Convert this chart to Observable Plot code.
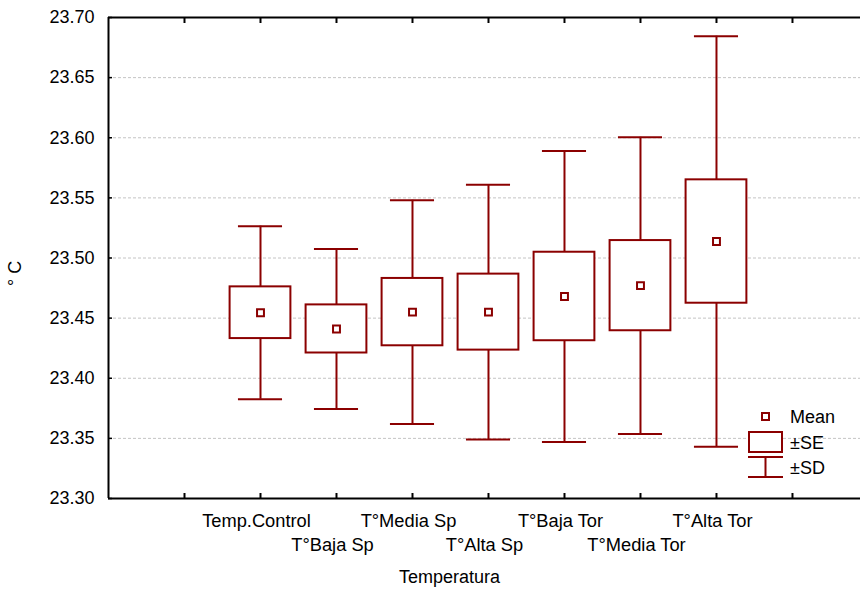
<!DOCTYPE html>
<html>
<head>
<meta charset="utf-8">
<script src="https://cdn.jsdelivr.net/npm/d3@7"></script>
<script src="https://cdn.jsdelivr.net/npm/@observablehq/plot@0.6"></script>
<style>
  body { margin: 0; background: #fff; overflow: hidden; }
  #chart { position: relative; width: 860px; height: 591px; font-family: "Liberation Sans", Arial, sans-serif; }
  #legend { position: absolute; left: 740px; top: 404px; }
</style>
</head>
<body>
<div id="chart"></div>
<script>
// Temperature groups (left to right)
const categories = ["Temp.Control", "T°Baja Sp", "T°Media Sp", "T°Alta Sp", "T°Baja Tor", "T°Media Tor", "T°Alta Tor"];
// Mean temperature (°C) per group
const means = [23.4545, 23.4410, 23.4550, 23.4550, 23.4680, 23.4770, 23.5137];
// Standard error per group
const stdErr = [0.0215, 0.0200, 0.0280, 0.0316, 0.0368, 0.0375, 0.0513];
// Standard deviation per group
const stdDev = [0.0720, 0.0665, 0.0930, 0.1060, 0.1210, 0.1234, 0.1707];
// Axis ticks
const yTicks = [23.30, 23.35, 23.40, 23.45, 23.50, 23.55, 23.60, 23.65, 23.70];
const xTicks = [1, 2, 3, 4, 5, 6, 7, 8, 9];
const xMax = 9.895;

const red = "#8b0000";
const font = "'Liberation Sans', Arial, sans-serif";

const groups = categories.map((name, i) => ({
  name, pos: i + 2, row: i % 2,
  mean: means[i], se: stdErr[i], sd: stdDev[i]
}));

const boxHalf = 0.4;   // half box width, in slot units
const capHalf = 0.29;  // half whisker-cap width

const chart = Plot.plot({
  width: 860,
  height: 591,
  marginLeft: 108,
  marginRight: 0,
  marginTop: 17,
  marginBottom: 93,
  style: { fontFamily: font, fontSize: "18px", background: "#fff", color: "#000", overflow: "visible" },
  x: { domain: [0, xMax], axis: null },
  y: { domain: [23.30, 23.70], axis: null },
  marks: [
    // dashed horizontal grid
    Plot.ruleY(yTicks.slice(1, -1), { stroke: "#c4c4c4", strokeDasharray: "3,2", strokeWidth: 1 }),
    // whisker stems (±SD), from the box edge out to the caps
    Plot.ruleX(groups, { x: "pos", y1: d => d.mean + d.se, y2: d => d.mean + d.sd, stroke: red, strokeWidth: 2 }),
    Plot.ruleX(groups, { x: "pos", y1: d => d.mean - d.se, y2: d => d.mean - d.sd, stroke: red, strokeWidth: 2 }),
    // whisker caps
    Plot.ruleY(groups, { y: d => d.mean + d.sd, x1: d => d.pos - capHalf, x2: d => d.pos + capHalf, stroke: red, strokeWidth: 2 }),
    Plot.ruleY(groups, { y: d => d.mean - d.sd, x1: d => d.pos - capHalf, x2: d => d.pos + capHalf, stroke: red, strokeWidth: 2 }),
    // ±SE boxes
    Plot.rect(groups, {
      x1: d => d.pos - boxHalf, x2: d => d.pos + boxHalf,
      y1: d => d.mean - d.se, y2: d => d.mean + d.se,
      fill: "#fff", stroke: red, strokeWidth: 2
    }),
    // mean markers
    Plot.dot(groups, { x: "pos", y: "mean", symbol: "square", r: 3.9, fill: "#fff", stroke: red, strokeWidth: 2 }),
    // frame: left, bottom and top lines
    Plot.ruleX([0], { stroke: "#000", strokeWidth: 2 }),
    Plot.ruleY([23.30, 23.70], { stroke: "#000", strokeWidth: 2 }),
    // inward tick marks
    Plot.axisX(xTicks, { anchor: "bottom", label: null, tickSize: -5, tickFormat: () => "", stroke: "#000", strokeWidth: 2 }),
    Plot.axisX(xTicks, { anchor: "top", label: null, tickSize: -5, tickFormat: () => "", stroke: "#000", strokeWidth: 2 }),
    Plot.axisY(yTicks, { anchor: "left", label: null, tickSize: -4, tickPadding: 18, tickFormat: d => d.toFixed(2), fontSize: 18, stroke: "#000", strokeWidth: 1.5 }),
    // staggered category labels
    Plot.text(groups.filter(d => d.row === 0), { x: "pos", y: () => 23.30, text: "name", dx: -4, dy: 23, lineAnchor: "middle", fontSize: 18.3, fill: "#000" }),
    Plot.text(groups.filter(d => d.row === 1), { x: "pos", y: () => 23.30, text: "name", dx: -4, dy: 47, lineAnchor: "middle", fontSize: 18.3, fill: "#000" }),
    // axis titles
    Plot.text(["Temperatura"], { frameAnchor: "bottom", dx: -35, dy: 79, lineAnchor: "middle", fontSize: 18, fill: "#000" }),
    Plot.text(["° C"], { frameAnchor: "left", dx: -93, dy: 28, rotate: -90, lineAnchor: "middle", fontSize: 18, fill: "#000" })
  ]
});

document.getElementById("chart").appendChild(chart);

// Legend drawn on top of the lower-right corner of the plot
const legendItems = ["Mean", "±SE", "±SD"];
const lg = d3.select("#chart").append("svg")
  .attr("id", "legend").attr("width", 110).attr("height", 80)
  .style("font-family", font).style("font-size", "18px");

// Mean marker
lg.append("rect").attr("x", 22).attr("y", 9).attr("width", 7).attr("height", 7)
  .attr("fill", "#fff").attr("stroke", red).attr("stroke-width", 2);
// ±SE box
lg.append("rect").attr("x", 9).attr("y", 28).attr("width", 33).attr("height", 20)
  .attr("fill", "#fff").attr("stroke", red).attr("stroke-width", 2);
// ±SD whisker
lg.append("line").attr("x1", 8).attr("x2", 43).attr("y1", 53).attr("y2", 53).attr("stroke", red).attr("stroke-width", 2);
lg.append("line").attr("x1", 8).attr("x2", 43).attr("y1", 73).attr("y2", 73).attr("stroke", red).attr("stroke-width", 2);
lg.append("line").attr("x1", 25.5).attr("x2", 25.5).attr("y1", 53).attr("y2", 73).attr("stroke", red).attr("stroke-width", 2);

lg.selectAll("text.lab").data(legendItems).join("text")
  .attr("class", "lab")
  .attr("x", 50)
  .attr("y", (d, i) => 13 + i * 25.5)
  .attr("dy", "0.35em")
  .attr("fill", "#000")
  .text(d => d);
</script>
</body>
</html>
